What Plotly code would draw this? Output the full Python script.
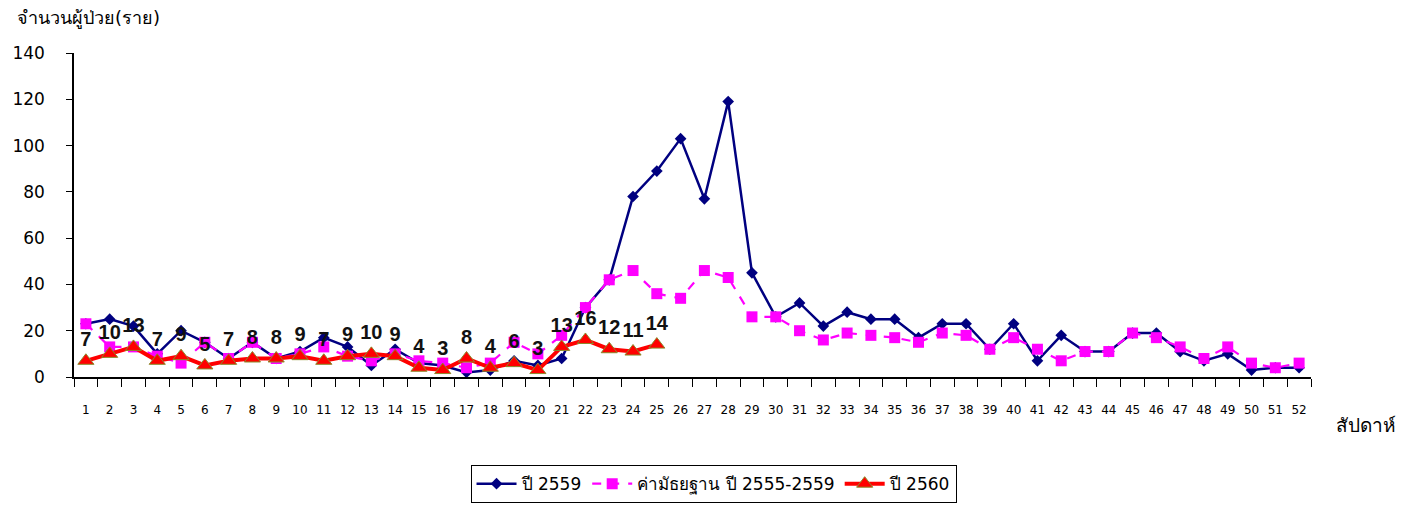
import plotly.graph_objects as go

weeks = list(range(1, 53))
week_labels = [str(w) for w in weeks]

y2559 = [23, 25, 22, 10, 20, 15, 8, 15, 8, 11, 17, 13, 5, 12, 6, 5, 2, 3, 7, 5,
         8, 30, 42, 78, 89, 103, 77, 119, 45, 26, 32, 22, 28, 25, 25, 17, 23, 23, 12, 23,
         7, 18, 11, 11, 19, 19, 11, 7, 10, 3, 4, 4]
median_2555_2559 = [23, 13, 13, 9, 6, 15, 8, 15, 8, 10, 13, 9, 7, 10, 7, 6, 4, 6, 15, 10,
                    18, 30, 42, 46, 36, 34, 46, 43, 26, 26, 20, 16, 19, 18, 17, 15, 19, 18, 12, 17,
                    12, 7, 11, 11, 19, 17, 13, 8, 13, 6, 4, 6]
y2560 = [7, 10, 13, 7, 9, 5, 7, 8, 8, 9, 7, 9, 10, 9, 4, 3, 8, 4, 6, 3, 13, 16, 12, 11, 14]

name_2559 = "ปี 2559"
name_median = "ค่ามัธยฐาน ปี 2555-2559"
name_2560 = "ปี 2560"
y_title = "จำนวนผู้ป่วย(ราย)"
x_title = "สัปดาห์"

FONT = "Tahoma, 'DejaVu Sans', sans-serif"

fig = go.Figure()
fig.add_trace(go.Scatter(
    x=weeks, y=y2559, name=name_2559, mode="lines+markers",
    line=dict(color="#000080", width=2.5),
    marker=dict(symbol="diamond", size=9, color="#000080"),
))
fig.add_trace(go.Scatter(
    x=weeks, y=median_2555_2559, name=name_median, mode="lines+markers",
    line=dict(color="#FF00FF", width=2.2, dash="dash"),
    marker=dict(symbol="square", size=11, color="#FF00FF"),
))
fig.add_trace(go.Scatter(
    x=weeks[:len(y2560)], y=y2560, name=name_2560, mode="lines+markers+text",
    text=[str(v) for v in y2560], textposition="top center",
    textfont=dict(family="'Liberation Sans Narrow', 'Arial Narrow', sans-serif", size=20,
                  color="#111111", weight="bold"),
    line=dict(color="#FF0000", width=4),
    marker=dict(symbol="triangle-up", size=14, color="#FF0000",
                line=dict(color="#8A8A2A", width=1)),
))
# invisible trace for the tick-label axis
fig.add_trace(go.Scatter(x=weeks, y=[None]*52, xaxis="x2", showlegend=False, hoverinfo="skip"))

fig.update_layout(
    width=1398, height=498,
    margin=dict(l=66, r=95, t=45, b=129, autoexpand=False),
    plot_bgcolor="white", paper_bgcolor="white",
    font=dict(family=FONT, color="black"),
    xaxis=dict(range=[0.5, 52.5], tickmode="linear", tick0=0.5, dtick=1,
               showticklabels=False, ticks="outside", ticklen=8, tickcolor="black",
               showline=True, linecolor="black", linewidth=1.5, showgrid=False, zeroline=False),
    xaxis2=dict(range=[0.5, 52.5], overlaying="x", side="bottom", anchor="y",
                tickmode="array", tickvals=weeks, ticktext=week_labels,
                ticks="", showline=False, showgrid=False, zeroline=False,
                tickfont=dict(size=12, family=FONT), ticklabelstandoff=24),
    yaxis=dict(range=[0, 140], tickmode="linear", tick0=0, dtick=20,
               ticks="outside", ticklen=6, tickcolor="black",
               showline=True, linecolor="black", linewidth=1.5, showgrid=False, zeroline=False,
               tickfont=dict(size=17, family=FONT), ticklabelstandoff=18),
    legend=dict(orientation="h", x=0.517, xanchor="center", y=-0.272, yanchor="top",
                bordercolor="black", borderwidth=1, bgcolor="white",
                font=dict(size=17, family=FONT), itemwidth=40,
                traceorder="normal"),
    showlegend=True,
    annotations=[
        dict(text=y_title, xref="paper", yref="paper", x=-0.048, y=1.108,
             xanchor="left", yanchor="middle", showarrow=False,
             font=dict(size=18, family=FONT)),
        dict(text=x_title, xref="paper", yref="paper", x=1.07, y=-0.149,
             xanchor="right", yanchor="middle", showarrow=False,
             font=dict(size=19, family=FONT)),
    ],
)

fig.write_html("out.html")
